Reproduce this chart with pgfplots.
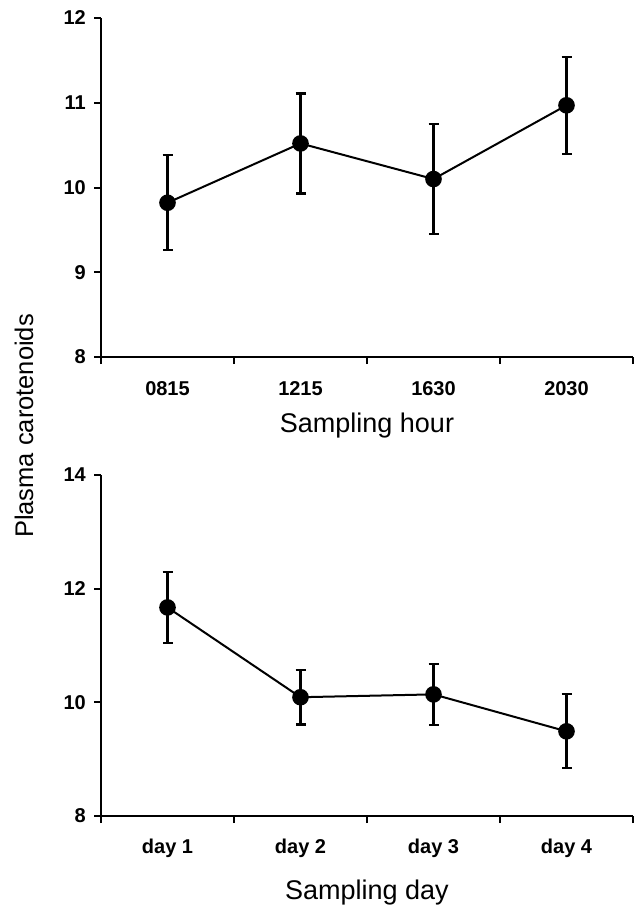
\documentclass[border=0pt]{standalone}
\usepackage{fontspec}
\setmainfont{Liberation Sans}
\usepackage{pgfplots}
\pgfplotsset{compat=1.18}

\pgfplotsset{
  panel/.style={
    scale only axis,
    width=532pt,
    xmin=0.5, xmax=4.5,
    axis x line*=bottom, axis y line*=left,
    axis line style={line width=2pt},
    every tick/.style={line width=2pt, black},
    xtick={1,2,3,4},
    x tick style={draw=none},
    extra x ticks={0.5,1.5,2.5,3.5,4.5},
    extra x tick labels={},
    extra x tick style={major tick length=7pt, tick align=outside, x tick style={draw=black}},
    ytick align=outside, major tick length=7pt,
    /pgf/number format/assume math mode=true,
    xticklabel style={font=\fontsize{20}{22}\selectfont\bfseries, anchor=base, inner sep=0pt},
    yticklabel style={font=\fontsize{20}{22}\selectfont\bfseries, anchor=east, inner sep=0pt, xshift=-8pt},
  },
  series/.style={
    black, line width=2pt,
    mark=*, mark size=7.3pt, mark options={fill=black, solid},
  },
  /pgfplots/error bars/every error bar/.append style={line width=2.2pt, black},
}

\begin{document}
\begin{tikzpicture}
\useasboundingbox (0,0) rectangle (637pt,-905pt);

% upper panel: hours
\begin{axis}[panel,
  at={(101pt,-357pt)}, anchor=south west,
  height=339pt,
  ymin=8, ymax=12, ytick={8,9,10,11,12},
  xticklabels={0815,1215,1630,2030},
  xticklabel style={yshift=-38pt},
  xlabel={Sampling hour},
  xlabel style={font=\fontsize{27}{30}\selectfont, at={(axis description cs:0.5,0)}, anchor=base, inner sep=0pt, yshift=-75pt},
]
\addplot[series, error bars/.cd, y dir=both, y explicit,
  error bar style={line width=2.2pt},
  error mark options={rotate=90, mark size=5pt, line width=2.2pt}] coordinates {
  (1,9.82) +- (0,0.56)
  (2,10.52) +- (0,0.59)
  (3,10.10) +- (0,0.65)
  (4,10.97) +- (0,0.57)
};
\end{axis}

% lower panel: days
\begin{axis}[panel,
  at={(101pt,-816pt)}, anchor=south west,
  height=341pt,
  ymin=8, ymax=14, ytick={8,10,12,14},
  xticklabels={day 1,day 2,day 3,day 4},
  xticklabel style={yshift=-37pt},
  xlabel={Sampling day},
  xlabel style={font=\fontsize{27}{30}\selectfont, at={(axis description cs:0.5,0)}, anchor=base, inner sep=0pt, yshift=-83pt},
]
\addplot[series, error bars/.cd, y dir=both, y explicit,
  error bar style={line width=2.2pt},
  error mark options={rotate=90, mark size=5pt, line width=2.2pt}] coordinates {
  (1,11.67) +- (0,0.62)
  (2,10.09) +- (0,0.48)
  (3,10.14) +- (0,0.54)
  (4,9.49) +- (0,0.65)
};
\end{axis}

\node[rotate=90, anchor=base, inner sep=0pt, font=\fontsize{25.5}{28}\selectfont] at (33pt,-426pt) {Plasma carotenoids};
\end{tikzpicture}
\end{document}
